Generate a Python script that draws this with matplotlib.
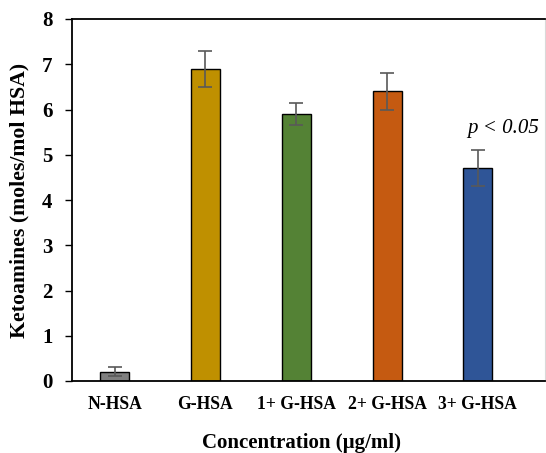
import matplotlib
matplotlib.use("Agg")
import matplotlib.pyplot as plt

categories = ["N-HSA", "G-HSA", "1+ G-HSA", "2+ G-HSA", "3+ G-HSA"]
values = [0.2, 6.9, 5.9, 6.4, 4.7]
errors = [0.1, 0.4, 0.24, 0.4, 0.4]
colors = ["#7f7f7f", "#bf9000", "#548235", "#c55a11", "#2f5597"]
yticks = [0, 1, 2, 3, 4, 5, 6, 7, 8]

plt.rcParams["font.family"] = ["Liberation Serif", "DejaVu Serif"]

fig = plt.figure(figsize=(5.46, 4.53), dpi=100)
ax = fig.add_axes([72/546, 72/453, 473/546, 362/453])

x = list(range(len(categories)))
ax.bar(x, values, width=0.32, color=colors, edgecolor="black", linewidth=1.0,
       yerr=errors, error_kw=dict(ecolor="#595959", elinewidth=1.2, capsize=5, capthick=1.2),
       zorder=2)

ax.set_xlim(-0.47, 4.74)
ax.set_ylim(0, 8)
ax.set_yticks(yticks)
ax.set_yticklabels([str(t) for t in yticks], fontsize=15, fontweight="bold")
ax.set_xticks(x)
ax.set_xticklabels(categories, fontsize=12.7, fontweight="bold")
ax.tick_params(axis="x", length=0, pad=11)
ax.tick_params(axis="y", direction="out", length=5, width=1, pad=9)

for s in ["left", "bottom", "top"]:
    ax.spines[s].set_color("black")
    ax.spines[s].set_linewidth(1.3)
ax.spines["right"].set_color("#d9d9d9")
ax.spines["right"].set_linewidth(0.8)

ax.set_ylabel("Ketoamines (moles/mol HSA)", fontsize=15.7, fontweight="bold", labelpad=9)
fig.text(301.5/546, 1 - 443/453, "Concentration (µg/ml)", fontsize=15, fontweight="bold",
         ha="center", va="center")

ax.text(4.28, 5.59, "p < 0.05", ha="center", va="center",
        fontsize=15, fontstyle="italic")

fig.savefig("out.png", dpi=100)
